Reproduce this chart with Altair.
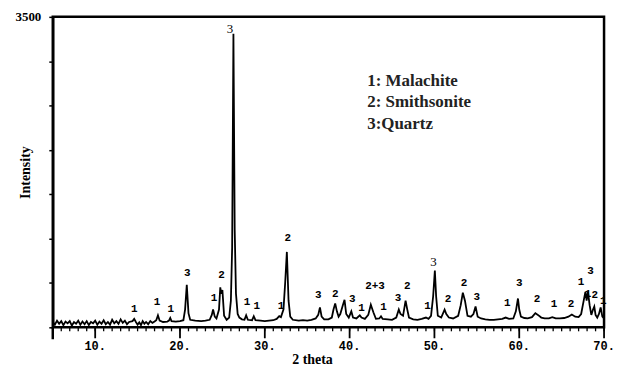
import altair as alt
import pandas as pd

# XRD trace (2 theta in degrees, intensity in counts)
two_theta = [5.0, 5.25, 5.5, 5.75, 6.0, 6.25, 6.5, 6.75, 7.0, 7.25, 7.5, 7.75, 8.0, 8.25, 8.5, 8.75,
             9.0, 9.25, 9.5, 9.75, 10.0, 10.25, 10.5, 10.75, 11.0, 11.25, 11.5, 11.75, 12.0, 12.25,
             12.5, 12.75, 13.0, 13.25, 13.5, 13.75, 14.0, 14.4, 14.6, 14.8, 15.0, 15.2, 15.4, 15.6,
             15.8, 16.0, 16.25, 16.5, 16.75, 17.0, 17.2, 17.4, 17.6,
             18.0, 18.5, 18.7, 18.85, 19.0, 19.5, 20.0, 20.4, 20.6, 20.8, 21.0, 21.2, 21.8, 22.5,
             23.0, 23.5, 23.75, 23.9, 24.1, 24.3, 24.6, 24.75, 24.85, 25.0, 25.2, 25.5, 25.8, 26.0,
             26.15, 26.3, 26.45, 26.6, 26.8, 27.0, 27.3, 27.6, 27.8, 28.0, 28.5, 28.7, 28.9, 29.5,
             30.0, 30.5, 31.0, 31.4, 31.7, 31.9, 32.2, 32.4, 32.6, 32.8, 33.0, 33.3, 34.0, 34.5,
             35.0, 35.5, 36.0, 36.3, 36.5, 36.7, 37.0, 37.5, 37.9, 38.1, 38.3, 38.5, 38.7, 38.9,
             39.2, 39.4, 39.6, 39.9, 40.2, 40.4, 40.8, 41.2, 41.4, 41.8, 42.2, 42.5, 42.8, 43.1,
             43.5, 43.7, 43.9, 44.5, 45.0, 45.5, 45.8, 46.0, 46.3, 46.6, 46.8, 47.0, 47.5, 48.0,
             48.5, 49.0, 49.3, 49.6, 49.85, 50.05, 50.2, 50.4, 50.8, 51.2, 51.4, 51.7, 52.2, 52.8,
             53.1, 53.35, 53.6, 53.9, 54.3, 54.6, 54.85, 55.1, 55.5, 56.0, 56.5, 57.0, 57.5, 58.0,
             58.4, 58.8, 59.3, 59.6, 59.85, 60.0, 60.2, 60.6, 61.0, 61.5, 61.9, 62.2, 62.6, 63.0,
             63.5, 63.9, 64.3, 64.8, 65.3, 65.8, 66.2, 66.6, 67.0, 67.3, 67.6, 67.8, 67.95, 68.1,
             68.3, 68.5, 68.7, 68.85, 69.0, 69.2, 69.4, 69.6, 69.8, 70.0]
intensity = [60, 30, 75, 40, 70, 25, 65, 45, 70, 20, 60, 40, 75, 30, 65, 35,
             70, 25, 60, 45, 75, 30, 65, 40, 80, 35, 60, 30, 85, 45,
             70, 40, 90, 50, 75, 35, 60, 70, 95, 60, 30, 55, 25, 70,
             40, 60, 35, 70, 50, 65, 80, 135, 75,
             60, 65, 75, 105, 70, 65, 70, 80, 200, 480, 160, 85, 75, 70,
             75, 85, 140, 200, 120, 100, 200, 450, 380, 420, 130, 85, 110, 300,
             900, 3310, 1100, 380, 150, 110, 90, 85, 135, 85, 80, 125, 80, 75,
             70, 75, 80, 95, 125, 115, 200, 500, 850, 300, 120, 85, 75, 80,
             75, 85, 100, 140, 225, 120, 90, 90, 110, 200, 270, 180, 120, 150,
             250, 310, 150, 110, 180, 110, 100, 135, 110, 95, 140, 255, 170, 95,
             100, 125, 95, 90, 85, 110, 200, 150, 130, 300, 200, 110, 90, 85,
             95, 110, 95, 130, 350, 640, 350, 130, 110, 200, 150, 110, 100, 130,
             250, 390, 300, 130, 120, 150, 235, 120, 100, 90, 85, 85, 90, 95,
             110, 95, 100, 180, 325, 200, 120, 105, 100, 115, 160, 140, 110, 100,
             100, 115, 100, 100, 105, 120, 145, 120, 115, 150, 300, 400, 300, 405,
             250, 140, 200, 235, 140, 110, 150, 225, 120, 100]

# Peak labels (phase number, 2 theta, intensity position)
mono_text = ["1", "1", "1", "3", "1", "2", "1", "1", "1", "2", "3", "2", "3", "1", "2+3",
             "1", "3", "2", "1", "2", "2", "3", "1", "3", "2", "1", "2", "1", "3", "1", "2", "1"]
mono_x = [14.6, 17.3, 18.9, 20.85, 24.0, 24.9, 27.9, 29.05, 31.9, 32.7, 36.3, 38.3, 40.3, 41.4, 43.0,
          44.0, 45.7, 46.8, 49.2, 51.6, 53.5, 55.0, 58.6, 60.0, 62.1, 64.1, 66.1, 67.3, 68.4, 68.1, 68.9, 69.9]
mono_y = [202, 280, 202, 617, 325, 595, 280, 236, 236, 1010, 359, 381, 314, 213, 460,
          224, 325, 471, 236, 314, 505, 337, 269, 494, 314, 258, 258, 516, 640, 370, 359, 292]

serif_text = ["3", "3"]
serif_x = [25.9, 49.9]
serif_y = [3366, 740]

legend_lines = ["1: Malachite", "2: Smithsonite", "3:Quartz"]

x_minor_ticks = list(range(5, 71))
x_major_ticks = [10, 20, 30, 40, 50, 60, 70]
x_tick_labels = ["10.", "20.", "30.", "40.", "50.", "60.", "70."]
y_ticks = [0, 500, 1000, 1500, 2000, 2500, 3000, 3500]

W, H = 554, 312

df = pd.DataFrame({"t": two_theta, "i": intensity})
mono_df = pd.DataFrame({"t": mono_x, "i": mono_y, "lab": mono_text})
serif_df = pd.DataFrame({"t": serif_x, "i": serif_y, "lab": serif_text})
major_df = pd.DataFrame({"t": x_major_ticks, "lab": x_tick_labels})
minor_df = pd.DataFrame({"t": x_minor_ticks})

x_scale = alt.Scale(domain=[5, 70], nice=False, zero=False)
y_scale = alt.Scale(domain=[0, 3500], nice=False, zero=False)

y_axis = alt.Axis(
    values=y_ticks,
    labelExpr="datum.value === 3500 ? '3500' : ''",
    tickSize=4, tickColor="black", tickWidth=1.5,
    domainColor="black", domainWidth=2.5,
    labelFont="Liberation Serif", labelFontWeight="bold", labelFontSize=13, labelColor="black",
    labelPadding=8,
    grid=False,
    title="Intensity", titleFont="Liberation Serif", titleFontWeight="bold", titleFontSize=14,
    titleColor="black", titleX=-27, titleBaseline="middle", titleAngle=-90,
)

line = alt.Chart(df).mark_line(color="black", strokeWidth=1.8).encode(
    x=alt.X("t:Q", scale=x_scale, axis=None),
    y=alt.Y("i:Q", scale=y_scale, axis=y_axis),
)

minor = alt.Chart(minor_df).mark_rule(color="black", strokeWidth=1.3).encode(
    x=alt.X("t:Q", scale=x_scale, axis=None), y=alt.value(H), y2=alt.value(H + 4)
)
major = alt.Chart(major_df).mark_rule(color="black", strokeWidth=1.8).encode(
    x=alt.X("t:Q", scale=x_scale, axis=None), y=alt.value(H), y2=alt.value(H + 11)
)
major_labels = alt.Chart(major_df).mark_text(
    font="Liberation Mono", fontWeight="bold", fontSize=12, color="black",
    baseline="middle", align="center"
).encode(x=alt.X("t:Q", scale=x_scale, axis=None), y=alt.value(H + 19), text="lab:N")

x_title = alt.Chart(pd.DataFrame({"lab": ["2 theta"]})).mark_text(
    font="Liberation Serif", fontWeight="bold", fontSize=14, color="black",
    baseline="middle", align="center"
).encode(x=alt.value(261), y=alt.value(H + 33), text="lab:N")

mono_labels = alt.Chart(mono_df).mark_text(
    font="Liberation Mono", fontWeight="bold", fontSize=11, color="black", baseline="middle"
).encode(x=alt.X("t:Q", scale=x_scale, axis=None), y=alt.Y("i:Q", scale=y_scale), text="lab:N")

serif_labels = alt.Chart(serif_df).mark_text(
    font="Liberation Serif", fontSize=13, color="black", baseline="middle"
).encode(x=alt.X("t:Q", scale=x_scale, axis=None), y=alt.Y("i:Q", scale=y_scale), text="lab:N")

legend_layers = []
for k, txt in enumerate(legend_lines):
    legend_layers.append(
        alt.Chart(pd.DataFrame({"lab": [txt]})).mark_text(
            font="Liberation Serif", fontWeight="bold", fontSize=17, color="#222",
            align="left", baseline="alphabetic"
        ).encode(x=alt.value(316), y=alt.value(69 + 22 * k), text="lab:N")
    )

axis_ext = alt.Chart(pd.DataFrame({"a": [0]})).mark_rule(color="black", strokeWidth=2.5).encode(
    x=alt.value(0), y=alt.value(H), y2=alt.value(H + 12)
)

chart = alt.layer(line, minor, major, major_labels, x_title, mono_labels, serif_labels,
                  axis_ext, *legend_layers).properties(
    width=W, height=H,
    autosize=alt.AutoSizeParams(type="none"),
    padding={"left": 45, "top": 8, "right": 10, "bottom": 42},
    background="white",
).configure_view(stroke="black", strokeWidth=2.5)

chart.save("out.html", embed_options={"renderer": "svg", "actions": False})
